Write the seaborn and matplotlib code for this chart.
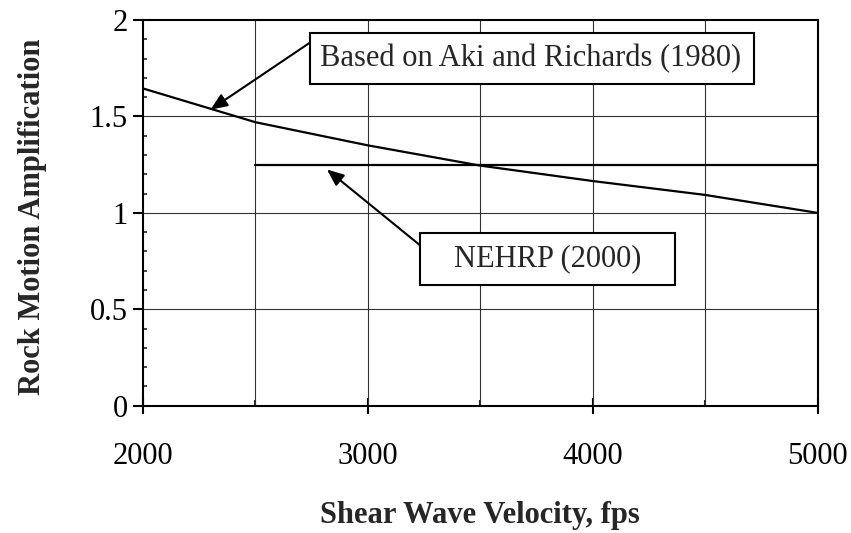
import matplotlib
matplotlib.use("Agg")
import matplotlib.pyplot as plt
import seaborn as sns
import pandas as pd
from matplotlib.ticker import MultipleLocator
from matplotlib.patches import Rectangle

# ---- data ----
velocity = [2000, 2500, 3000, 3500, 4000, 4500, 5000]
aki_richards = [1.645, 1.47, 1.35, 1.245, 1.165, 1.093, 1.00]
nehrp_velocity = [2500, 5000]
nehrp_amp = [1.25, 1.25]

x_ticks = [2000, 3000, 4000, 5000]
y_ticks = [0, 0.5, 1, 1.5, 2]
x_label = "Shear Wave Velocity, fps"
y_label = "Rock Motion Amplification"
label_aki = "Based on Aki and Richards (1980)"
label_nehrp = "NEHRP (2000)"

sns.set_style("white")
plt.rcParams["font.family"] = ["Liberation Serif", "DejaVu Serif"]

fig = plt.figure(figsize=(8.51, 5.33), dpi=100)
ax = fig.add_axes([143 / 851, 1 - 405.7 / 533, 674.5 / 851, 385.7 / 533])

df_aki = pd.DataFrame({"v": velocity, "amp": aki_richards})
df_neh = pd.DataFrame({"v": nehrp_velocity, "amp": nehrp_amp})
sns.lineplot(data=df_aki, x="v", y="amp", ax=ax, color="black", lw=1.6, zorder=3)
sns.lineplot(data=df_neh, x="v", y="amp", ax=ax, color="black", lw=1.6, zorder=3)

ax.set_xlim(2000, 5000)
ax.set_ylim(0, 2)
ax.set_xticks(x_ticks)
ax.set_xticklabels([str(t) for t in x_ticks])
ax.set_yticks(y_ticks)
ax.set_yticklabels(["0", "0.5", "1", "1.5", "2"])
ax.xaxis.set_minor_locator(MultipleLocator(500))
ax.yaxis.set_minor_locator(MultipleLocator(0.1))

ax.grid(False)
for xv in range(2500, 5000, 500):
    ax.axvline(xv, color="0.2", lw=0.8, zorder=1)
for yv in [0.5, 1.0, 1.5]:
    ax.axhline(yv, color="0.2", lw=0.8, zorder=1)

for s in ax.spines.values():
    s.set_color("black")
    s.set_linewidth(1.5)

ax.tick_params(axis="x", which="major", direction="inout", length=12, width=1.5,
               labelsize=22, pad=20, colors="black")
ax.tick_params(axis="x", which="minor", direction="in", length=4, width=1.5)
ax.tick_params(axis="y", which="major", direction="out", length=7, width=1.5,
               labelsize=22, pad=4, colors="black")
ax.tick_params(axis="y", which="minor", direction="in", length=3, width=1.2)
ax.tick_params(left=True, bottom=True, which="both")

ax.set_xlabel(x_label, fontsize=22, fontweight="bold")
ax.set_ylabel(y_label, fontsize=22, fontweight="bold")
ax.xaxis.set_label_coords(0.5, -0.285)
ax.xaxis.label.set_va("center")
ax.yaxis.set_label_coords(-0.164, 0.49)
ax.yaxis.label.set_va("center")

arrow = dict(arrowstyle="-|>,head_length=0.6,head_width=0.25", shrinkA=0, shrinkB=0,
             lw=1.5, color="black", mutation_scale=17)

# Aki & Richards callout
ax.add_patch(Rectangle((2743, 1.668), 4716 - 2743, 1.934 - 1.668, fc="white",
                       ec="black", lw=1.5, zorder=5))
ax.text(3725, 1.798, label_aki, ha="center", va="center", fontsize=22, zorder=6)
ax.annotate("", xy=(2300, 1.535), xytext=(2743, 1.883), textcoords="data",
            arrowprops=arrow, zorder=5)

# NEHRP callout
ax.add_patch(Rectangle((3231, 0.628), 4366 - 3231, 0.898 - 0.628, fc="white",
                       ec="black", lw=1.5, zorder=5))
ax.text(3798, 0.760, label_nehrp, ha="center", va="center", fontsize=22, zorder=6)
ax.annotate("", xy=(2818, 1.225), xytext=(3231, 0.833), textcoords="data",
            arrowprops=arrow, zorder=5)

fig.savefig("out.png", dpi=100)
